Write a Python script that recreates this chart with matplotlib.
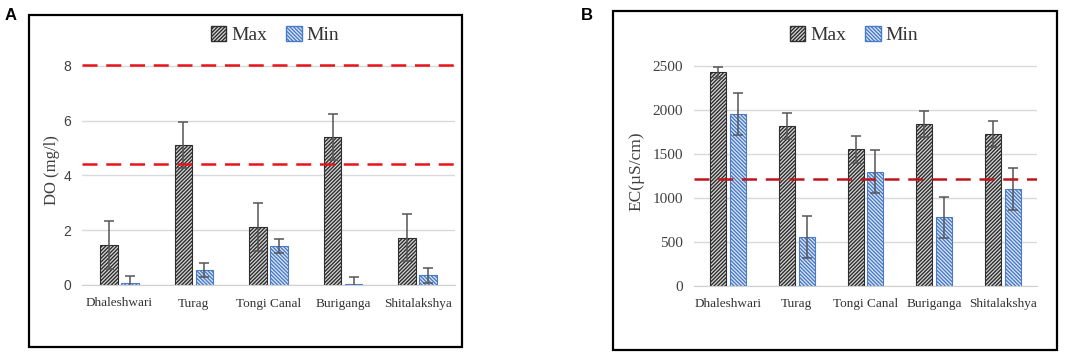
import matplotlib
matplotlib.use("Agg")
import matplotlib.pyplot as plt
import numpy as np
from matplotlib.patches import Rectangle, Patch

rivers = ["Dhaleshwari", "Turag", "Tongi Canal", "Buriganga", "Shitalakshya"]

do_max = [1.45, 5.12, 2.11, 5.40, 1.73]
do_max_err = [0.87, 0.85, 0.88, 0.85, 0.85]
do_min = [0.08, 0.55, 1.43, 0.03, 0.35]
do_min_err = [0.25, 0.24, 0.25, 0.27, 0.26]
do_limits = [8.05, 4.42]
do_ticks = [0, 2, 4, 6, 8]

ec_max = [2425, 1818, 1550, 1834, 1720]
ec_max_err = [65, 150, 150, 148, 148]
ec_min = [1951, 553, 1295, 777, 1102]
ec_min_err = [235, 240, 245, 235, 240]
ec_limits = [1210]
ec_ticks = [0, 500, 1000, 1500, 2000, 2500]

W, H = 1084, 359
fig = plt.figure(figsize=(W / 100, H / 100), dpi=100)

serif = ["Liberation Serif", "DejaVu Serif"]
plt.rcParams["hatch.linewidth"] = 1.0

MAXC = "#2e2e2e"
MINC = "#4a7bc6"
HMAX = "/" * 9
HMIN = "\\" * 9


def fx(px):
    return px / W


def fy(py):
    return 1 - py / H


def panel(ax, vmax, emax, vmin, emin, limits, ticks, ylim, red, ylabel,
          ylab_size, tick_font, tick_size, bw, gap):
    x = np.arange(len(rivers))
    off = bw / 2 + gap / 2
    ax.bar(x - off, vmax, bw, facecolor="#d8d8d8", edgecolor=MAXC,
           hatch=HMAX, linewidth=0.8, zorder=2)
    ax.bar(x + off, vmin, bw, facecolor="#dfe8f6", edgecolor=MINC,
           hatch=HMIN, linewidth=0.8, zorder=2)
    ax.errorbar(x - off, vmax, yerr=emax, fmt="none", ecolor="#555555",
                elinewidth=1.1, capsize=3.5, capthick=1.1, zorder=3)
    ax.errorbar(x + off, vmin, yerr=emin, fmt="none", ecolor="#555555",
                elinewidth=1.1, capsize=3.5, capthick=1.1, zorder=3)
    for v in limits:
        ax.axhline(v, color=red, linewidth=1.8, dashes=(6, 3.5), zorder=4)
    ax.set_xlim(-0.5, len(rivers) - 0.5)
    ax.set_ylim(*ylim)
    ax.set_yticks(ticks)
    ax.set_xticks(x)
    ax.set_xticklabels(rivers, family=serif, fontsize=9.5, color="#333333")
    for lab in ax.get_yticklabels():
        lab.set_family(tick_font)
        lab.set_fontsize(tick_size)
        lab.set_color("#404040")
    ax.tick_params(length=0, pad=8)
    ax.tick_params(axis="x", pad=9)
    ax.yaxis.grid(True, color="#d9d9d9", linewidth=1)
    ax.set_axisbelow(True)
    for s in ["top", "right", "left"]:
        ax.spines[s].set_visible(False)
    ax.spines["bottom"].set_color("#d0d0d0")
    ax.set_ylabel(ylabel, family=serif, fontsize=ylab_size, color="#404040")


# Panel A
axA = fig.add_axes([fx(82), fy(285), fx(455 - 82), (285 - 55) / H])
panel(axA, do_max, do_max_err, do_min, do_min_err, do_limits, do_ticks,
      (0, 8.4), "#e8141c", "DO (mg/l)", 12, ["Liberation Sans", "DejaVu Sans"],
      10, 0.235, 0.045)
axA.yaxis.labelpad = 2

# Panel B
axB = fig.add_axes([fx(694), fy(285.7), fx(1037 - 694), (285.7 - 56.9) / H])
panel(axB, ec_max, ec_max_err, ec_min, ec_min_err, ec_limits, ec_ticks,
      (0, 2600), "#c0141c", "EC(µS/cm)", 12.5, serif, 11, 0.233, 0.058)
axB.yaxis.labelpad = 6

# Panel frames
for (x0, y0, x1, y1) in [(29, 15, 462, 347), (613, 11, 1057, 350)]:
    fig.patches.append(Rectangle((fx(x0), fy(y1)), fx(x1 - x0), (y1 - y0) / H,
                                 transform=fig.transFigure, fill=False,
                                 edgecolor="black", linewidth=1.6))

fig.text(fx(11), fy(15), "A", family=["Liberation Sans", "DejaVu Sans"],
         fontsize=12, fontweight="bold", va="center", ha="center")
fig.text(fx(587), fy(15), "B", family=["Liberation Sans", "DejaVu Sans"],
         fontsize=12, fontweight="bold", va="center", ha="center")

handles = [Patch(facecolor="#d8d8d8", edgecolor=MAXC, hatch=HMAX, label="Max"),
           Patch(facecolor="#dfe8f6", edgecolor=MINC, hatch=HMIN, label="Min")]
for cx in [275, 854]:
    fig.legend(handles=handles, loc="center", bbox_to_anchor=(fx(cx), fy(35)),
               ncol=2, frameon=False, prop={"family": serif, "size": 14},
               handlelength=0.8, handleheight=0.8, handletextpad=0.25,
               columnspacing=1.0, labelcolor="#333333")

fig.savefig("out.png", dpi=100)
